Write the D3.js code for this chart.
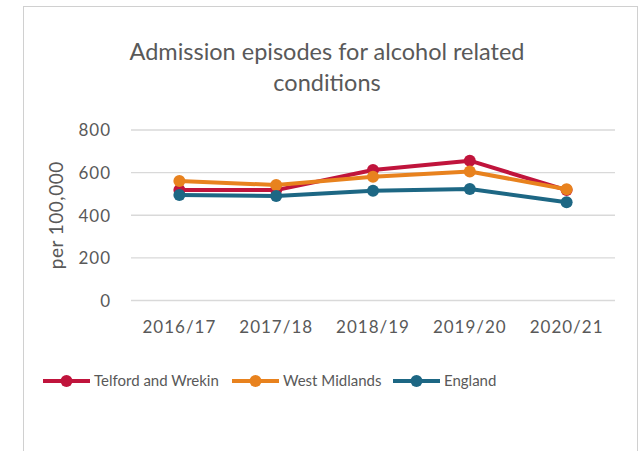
<!DOCTYPE html>
<meta charset="utf-8">
<style>

body {
  margin: 0;
  background: white;
}

svg text {
  font-family: Lato, "Open Sans", sans-serif;
  fill: #595959;
}

.grid line {
  stroke: #d9d9d9;
  stroke-width: 1.3px;
}

.axis text {
  font-size: 17px;
  letter-spacing: 1px;
}

.legend text {
  font-size: 15px;
}

.series path {
  fill: none;
  stroke-width: 4px;
  stroke-linejoin: round;
}

</style>
<svg></svg>
<script src="https://cdn.jsdelivr.net/npm/d3@7"></script>
<script>

var width = 642;
var height = 451;

var years = ['2016/17', '2017/18', '2018/19', '2019/20', '2020/21'];
var telford = [518, 518, 612, 656, 518];
var westMidlands = [561, 542, 581, 605, 522];
var england = [495, 490, 515, 523, 461];
var yTicks = [0, 200, 400, 600, 800];

var series = [
  { name: 'Telford and Wrekin', color: '#c0143c', values: telford },
  { name: 'West Midlands', color: '#e8821e', values: westMidlands },
  { name: 'England', color: '#1d6784', values: england }
];

var svg = d3.select('svg')
  .attr('width', width)
  .attr('height', height);

// chart frame
svg.append('rect')
  .attr('x', 23.5)
  .attr('y', 6.5)
  .attr('width', 614)
  .attr('height', 460)
  .attr('fill', 'white')
  .attr('stroke', '#d0d0d0')
  .attr('stroke-width', 1);

var x = d3.scaleBand()
  .domain(years)
  .range([131, 615]);

var y = d3.scaleLinear()
  .domain([0, 800])
  .range([300.5, 130]);

svg.append('text')
  .attr('x', 327)
  .attr('y', 60)
  .attr('text-anchor', 'middle')
  .style('font-size', '23.5px')
  .text('Admission episodes for alcohol related');

svg.append('text')
  .attr('x', 327)
  .attr('y', 91)
  .attr('text-anchor', 'middle')
  .style('font-size', '23.5px')
  .text('conditions');

svg.append('g')
  .attr('class', 'grid')
  .selectAll('line')
  .data(yTicks)
  .enter().append('line')
  .attr('x1', x.range()[0])
  .attr('x2', x.range()[1])
  .attr('y1', function (d) { return y(d); })
  .attr('y2', function (d) { return y(d); });

var yAxis = svg.append('g')
  .attr('class', 'axis')
  .attr('transform', 'translate(' + (x.range()[0] - 20) + ',0)')
  .call(d3.axisLeft(y).tickValues(yTicks).tickSize(0).tickPadding(0));
yAxis.select('.domain').remove();
yAxis.selectAll('text').attr('dy', '0.35em');

var xAxis = svg.append('g')
  .attr('class', 'axis')
  .attr('transform', 'translate(0,' + y(0) + ')')
  .call(d3.axisBottom(x).tickSize(0).tickPadding(20));
xAxis.select('.domain').remove();

svg.append('text')
  .attr('transform', 'translate(63,' + y(400) + ') rotate(-90)')
  .attr('text-anchor', 'middle')
  .style('font-size', '19px')
  .style('letter-spacing', '0.5px')
  .text('per 100,000');

var line = d3.line()
  .x(function (d, i) { return x(years[i]) + x.bandwidth() / 2; })
  .y(function (d) { return y(d); });

var groups = svg.append('g')
  .attr('class', 'series')
  .selectAll('g')
  .data(series)
  .enter().append('g');

groups.append('path')
  .attr('stroke', function (d) { return d.color; })
  .attr('d', function (d) { return line(d.values); });

groups.selectAll('circle')
  .data(function (d) { return d.values.map(function (v, i) { return { v: v, i: i, color: d.color }; }); })
  .enter().append('circle')
  .attr('cx', function (d) { return x(years[d.i]) + x.bandwidth() / 2; })
  .attr('cy', function (d) { return y(d.v); })
  .attr('r', 6)
  .attr('fill', function (d) { return d.color; });

var legendX = [43, 232, 393];

var legend = svg.append('g')
  .attr('class', 'legend')
  .selectAll('g')
  .data(series)
  .enter().append('g')
  .attr('transform', function (d, i) { return 'translate(' + legendX[i] + ',381)'; });

legend.append('line')
  .attr('x1', 0)
  .attr('x2', 47)
  .attr('stroke', function (d) { return d.color; })
  .attr('stroke-width', 4);

legend.append('circle')
  .attr('cx', 23.5)
  .attr('r', 6)
  .attr('fill', function (d) { return d.color; });

legend.append('text')
  .attr('x', 51)
  .attr('dy', '0.35em')
  .text(function (d) { return d.name; });

</script>
